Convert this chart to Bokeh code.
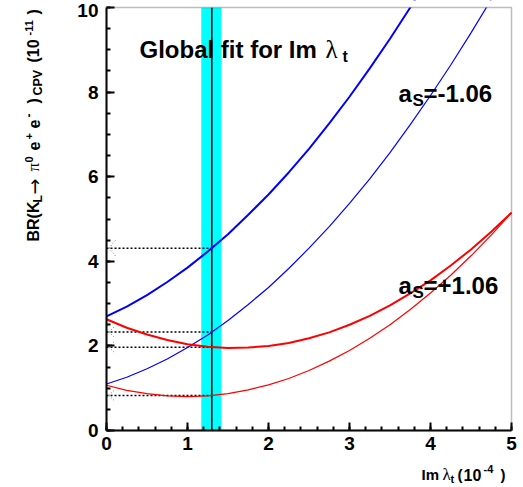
import math
from bokeh.plotting import figure
from bokeh.models import Label, Range1d, BoxAnnotation, SingleIntervalTicker
from bokeh.embed import file_html
from bokeh.resources import INLINE

# ---------------- data ----------------
imlt = [0.0, 0.25, 0.5, 0.75, 1.0, 1.25, 1.5, 1.75, 2.0, 2.25, 2.5,
        2.75, 3.0, 3.25, 3.5, 3.75, 4.0, 4.25, 4.5, 4.75, 5.0]
# a_S = -1.06 (blue)
br_neg_thick = [2.70, 2.93, 3.20, 3.51, 3.85, 4.23, 4.64, 5.10, 5.58, 6.10, 6.66,
                7.26, 7.89, 8.56, 9.26, 10.00, 10.78, 11.59, 12.43, 13.32, 14.24]
br_neg_thin = [1.10, 1.26, 1.46, 1.69, 1.96, 2.26, 2.60, 2.98, 3.38, 3.83, 4.31,
               4.82, 5.37, 5.95, 6.57, 7.23, 7.92, 8.64, 9.40, 10.19, 11.02]
# a_S = +1.06 (red)
br_pos_thick = [2.63, 2.43, 2.27, 2.14, 2.04, 1.98, 1.95, 1.96, 2.00, 2.07, 2.18,
                2.32, 2.50, 2.71, 2.96, 3.24, 3.55, 3.90, 4.28, 4.70, 5.15]
br_pos_thin = [1.07, 0.95, 0.87, 0.82, 0.80, 0.82, 0.87, 0.96, 1.08, 1.23, 1.42,
               1.64, 1.89, 2.18, 2.50, 2.86, 3.25, 3.67, 4.13, 4.62, 5.15]

# global fit for Im lambda_t (10^-4)
fit_center = 1.30
fit_lo = 1.17
fit_hi = 1.42
# BR values read at the fit value
br_at_fit = [4.31, 2.33, 1.97, 0.83]
br_at_fit_err = [0.18, 0.15, 0.15, 0.15]

x_min, x_max = 0.0, 5.0
y_min, y_max = 0.0, 10.0
x_ticks_interval = 1
y_ticks_interval = 2
y_top_label = "10"

# ---------------- figure ----------------
W, H = 523, 487
FL, FR, FT, FB = 106, 511, 7, 430  # pixel edges of the data box
sx = (FR - FL) / (x_max - x_min)
sy = (FB - FT) / (y_max - y_min)
xr = Range1d(x_min - FL / sx, x_max + (W - FR) / sx)
yr = Range1d(y_min - (H - FB) / sy, y_max + FT / sy)

p = figure(width=W, height=H, x_range=xr, y_range=yr,
           output_backend="svg", toolbar_location=None,
           min_border_left=0, min_border_right=0,
           min_border_top=0, min_border_bottom=0)
p.grid.visible = False
p.background_fill_color = "white"
p.border_fill_color = "white"
p.outline_line_color = None

# fit band and central value
p.add_layout(BoxAnnotation(left=fit_lo, right=fit_hi, bottom=y_min, top=y_max,
                           fill_color="#00ffff", fill_alpha=1.0, line_color=None,
                           level="underlay"))
p.segment(x0=[fit_center], y0=[y_min], x1=[fit_center], y1=[y_max],
          line_color="black", line_width=1.5)

# dotted projections to the axis
p.segment(x0=[x_min] * len(br_at_fit), y0=br_at_fit,
          x1=[fit_center] * len(br_at_fit), y1=br_at_fit,
          line_color="black", line_width=1.5, line_dash="2 2")
# small dotted error marks near the axis
xa = [0.03] * len(br_at_fit)
xb = [0.11] * len(br_at_fit)
p.segment(x0=xa, y0=br_at_fit, x1=xb, y1=[b + e for b, e in zip(br_at_fit, br_at_fit_err)],
          line_color="#777777", line_width=1, line_dash="1 2")
p.segment(x0=xa, y0=br_at_fit, x1=xb, y1=[b - e for b, e in zip(br_at_fit, br_at_fit_err)],
          line_color="#777777", line_width=1, line_dash="1 2")

# curves
p.line(imlt, br_neg_thick, line_color="#0000ff", line_width=2)
p.line(imlt, br_neg_thin, line_color="#0000ff", line_width=1.2)
p.line(imlt, br_pos_thick, line_color="#ff0000", line_width=2)
p.line(imlt, br_pos_thin, line_color="#ff0000", line_width=1.2)

# hide what lies above the data box
p.quad(left=[xr.start], right=[xr.end], bottom=[y_max], top=[yr.end],
       fill_color="white", line_color=None)

# data box outline (top and right edges)
p.add_layout(BoxAnnotation(left=x_min, right=x_max, bottom=y_min, top=y_max,
                           fill_alpha=0, line_color="#222222", line_width=1.5))

# axes at the data box edges
for ax, tk, loc, bnd in ((p.xaxis, SingleIntervalTicker(interval=x_ticks_interval, num_minor_ticks=5), y_min, (x_min, x_max)),
                         (p.yaxis, SingleIntervalTicker(interval=y_ticks_interval, num_minor_ticks=4), x_min, (y_min, y_max))):
    ax.ticker = tk
    ax.fixed_location = loc
    ax.bounds = bnd
    ax.axis_line_width = 2
    ax.axis_line_color = "black"
    ax.major_tick_in = 8
    ax.major_tick_out = 0
    ax.minor_tick_in = 4
    ax.minor_tick_out = 0
    ax.major_tick_line_width = 2
    ax.minor_tick_line_width = 2
    ax.major_label_text_font = "Liberation Sans"
    ax.major_label_text_font_style = "bold"
    ax.major_label_text_font_size = "19px"
    ax.major_label_text_color = "black"
p.xaxis.major_label_standoff = 6
p.yaxis.major_label_standoff = 8
p.yaxis.major_label_overrides = {10: ""}


# ---------------- texts ----------------
def txt(s, px, py, size, font="Liberation Sans", style="bold", angle=0.0,
        align="left", baseline="alphabetic"):
    p.add_layout(Label(x=px, y=py, x_units="canvas", y_units="canvas",
                       text=s, text_font=font, text_font_style=style,
                       text_font_size=f"{size}px", angle=angle,
                       text_align=align, text_baseline=baseline,
                       text_color="black"))


# top y tick label
txt(y_top_label, 98, 10, 19, align="right", baseline="middle")

# title
txt("Global fit for Im", 139, 49, 24)
txt("λ", 325, 49, 25, font="Liberation Serif", style="normal")
txt("t", 342, 56, 16)

# a_S labels
txt("a", 398, 93, 24)
txt("S", 412, 100, 17)
txt("=-1.06", 423, 93, 24)
txt("a", 398, 285, 24)
txt("S", 412, 292, 17)
txt("=+1.06", 423, 285, 24)

# x-axis title
txt("Im", 421, 474, 15)
txt("λ", 442, 474, 17, font="Liberation Serif", style="normal")
txt("t", 450, 478, 11)
txt("(", 457, 474, 15)
txt("10", 463, 474, 16)
txt("-4", 483, 468, 11)
txt(")", 500, 474, 15)

# y-axis title (rotated, reading upwards)
R = math.pi / 2
BX = 33        # main baseline x
SUBX = 37      # subscript baseline x
SUPX = 28      # superscript baseline x
txt("BR(K", BX, 241, 16, angle=R)
txt("L", SUBX, 202, 12, angle=R)
txt("→", BX, 194, 19, font="DejaVu Sans", style="normal", angle=R)
txt("π", BX, 171, 17, font="Liberation Serif", style="normal", angle=R)
txt("0", SUPX, 162, 11, angle=R)
txt("e", BX, 150, 16, angle=R)
txt("+", SUPX, 139, 11, angle=R)
txt("e", BX, 128, 16, angle=R)
txt("-", SUPX, 117, 12, angle=R)
txt(")", BX, 103, 16, angle=R)
txt("CPV", SUBX, 95, 12.5, angle=R)
txt("(10", BX, 62, 16, angle=R)
txt("-11", SUPX, 35, 11, angle=R)
txt(")", BX, 14, 16, angle=R)

open("out.html", "w").write(file_html(p, INLINE))
